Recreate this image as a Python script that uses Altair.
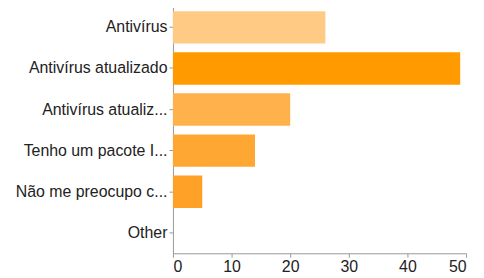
import altair as alt
import pandas as pd

categories = ["Antivírus", "Antivírus atualizado", "Antivírus atualiz...",
              "Tenho um pacote I...", "Não me preocupo c...", "Other"]
values = [26, 49, 20, 14, 5, 0]
colors = ["#FFCB84", "#FF9A00", "#FFB24C", "#FFA733", "#FFA126", "#FFA126"]

df = pd.DataFrame({"cat": categories, "val": values, "col": colors})

chart = alt.Chart(df).mark_bar().encode(
    y=alt.Y("cat:N", sort=categories, title=None,
            scale=alt.Scale(paddingInner=0.21, paddingOuter=0.105),
            axis=alt.Axis(labelFontSize=16, labelColor="#222", labelFont="Liberation Sans",
                          tickColor="#999", domainColor="#999", tickSize=4, labelPadding=2)),
    x=alt.X("val:Q", title=None,
            scale=alt.Scale(domain=[0, 50], nice=False),
            axis=alt.Axis(values=[0, 10, 20, 30, 40, 50], grid=False, labelFontSize=16,
                          labelColor="#222", labelFont="Liberation Sans",
                          tickColor="#999", domainColor="#999", tickSize=4, labelPadding=1)),
    color=alt.Color("col:N", scale=None),
).properties(
    width=295, height=248,
    autosize=alt.AutoSizeParams(type="none"),
    padding={"left": 166, "top": -2, "right": 10, "bottom": 20},
).configure_view(stroke=None)

chart.save("out.html", embed_options={"renderer": "svg", "actions": False})
